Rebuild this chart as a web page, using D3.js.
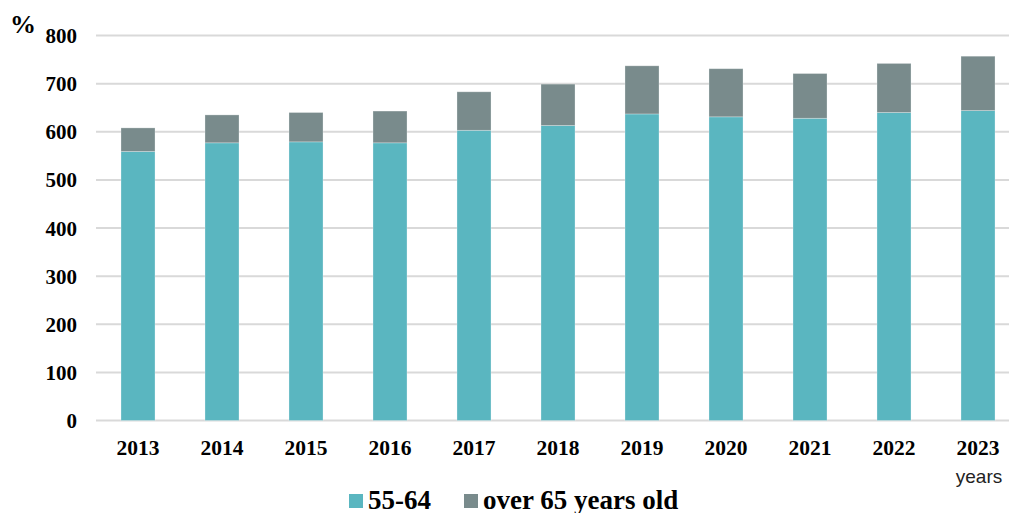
<!DOCTYPE html>
<html>
<head>
<meta charset="utf-8">
<script src="https://cdn.jsdelivr.net/npm/d3@7"></script>
<style>
  html, body { margin: 0; padding: 0; background: #fff; }
  svg { display: block; }
</style>
</head>
<body>
<svg id="chart" width="1009" height="513"></svg>
<script>
// Data
const years = ["2013", "2014", "2015", "2016", "2017", "2018", "2019", "2020", "2021", "2022", "2023"];
const age55to64 = [559, 577, 579, 577, 603, 613, 637, 631, 628, 640, 644];
const over65 = [49, 58, 61, 66, 80, 86, 100, 100, 93, 102, 113];
const yTicks = [0, 100, 200, 300, 400, 500, 600, 700, 800];
const seriesNames = ["55-64", "over 65 years old"];
const colors = ["#5ab6c0", "#798b8c"];

const svg = d3.select("#chart");
const serif = "'Liberation Serif', 'Times New Roman', serif";

const x = d3.scaleBand().domain(years).range([96, 1020]).paddingInner(0.595).paddingOuter(0.2975);
const y = d3.scaleLinear().domain([0, 800]).range([420.5, 35.5]);

// Gridlines
svg.append("g")
  .selectAll("line")
  .data(yTicks)
  .join("line")
  .attr("x1", 96).attr("x2", 1009)
  .attr("y1", d => y(d)).attr("y2", d => y(d))
  .attr("stroke", "#d9d9d9")
  .attr("stroke-width", 2);

// Stacked bars
const rows = years.map((yr, i) => ({ year: yr, a: age55to64[i], b: over65[i] }));
const stack = d3.stack().keys(["a", "b"])(rows);

svg.append("g")
  .selectAll("g")
  .data(stack)
  .join("g")
  .attr("fill", (d, i) => colors[i])
  .selectAll("rect")
  .data(d => d)
  .join("rect")
  .attr("x", d => x(d.data.year))
  .attr("width", x.bandwidth())
  .attr("y", d => y(d[1]))
  .attr("height", d => y(d[0]) - y(d[1]))
  .attr("stroke", "rgba(255,255,255,0.35)")
  .attr("stroke-width", 0.8);

// Y axis labels
svg.append("g")
  .selectAll("text")
  .data(yTicks)
  .join("text")
  .attr("x", 77)
  .attr("y", d => y(d) + 7.5)
  .attr("text-anchor", "end")
  .attr("font-family", serif)
  .attr("font-weight", "bold")
  .attr("font-size", 21)
  .attr("fill", "#000")
  .text(d => d);

svg.append("text")
  .attr("x", 10).attr("y", 33)
  .attr("font-family", serif).attr("font-weight", "bold").attr("font-size", 26)
  .text("%");

// X axis labels
svg.append("g")
  .selectAll("text")
  .data(years)
  .join("text")
  .attr("x", d => x(d) + x.bandwidth() / 2)
  .attr("y", 455)
  .attr("text-anchor", "middle")
  .attr("font-family", serif)
  .attr("font-weight", "bold")
  .attr("font-size", 21.5)
  .text(d => d);

svg.append("text")
  .attr("x", 979).attr("y", 483)
  .attr("text-anchor", "middle")
  .attr("font-family", "'Liberation Sans', Arial, sans-serif")
  .attr("font-size", 19)
  .attr("fill", "#222")
  .text("years");

// Legend
const legendX = [349, 464];
const legend = svg.append("g");
seriesNames.forEach((name, i) => {
  legend.append("rect")
    .attr("x", legendX[i]).attr("y", 494)
    .attr("width", 14).attr("height", 14)
    .attr("fill", colors[i]);
  legend.append("text")
    .attr("x", legendX[i] + 19).attr("y", 508.5)
    .attr("font-family", serif).attr("font-weight", "bold").attr("font-size", 27)
    .text(name);
});
</script>
</body>
</html>
